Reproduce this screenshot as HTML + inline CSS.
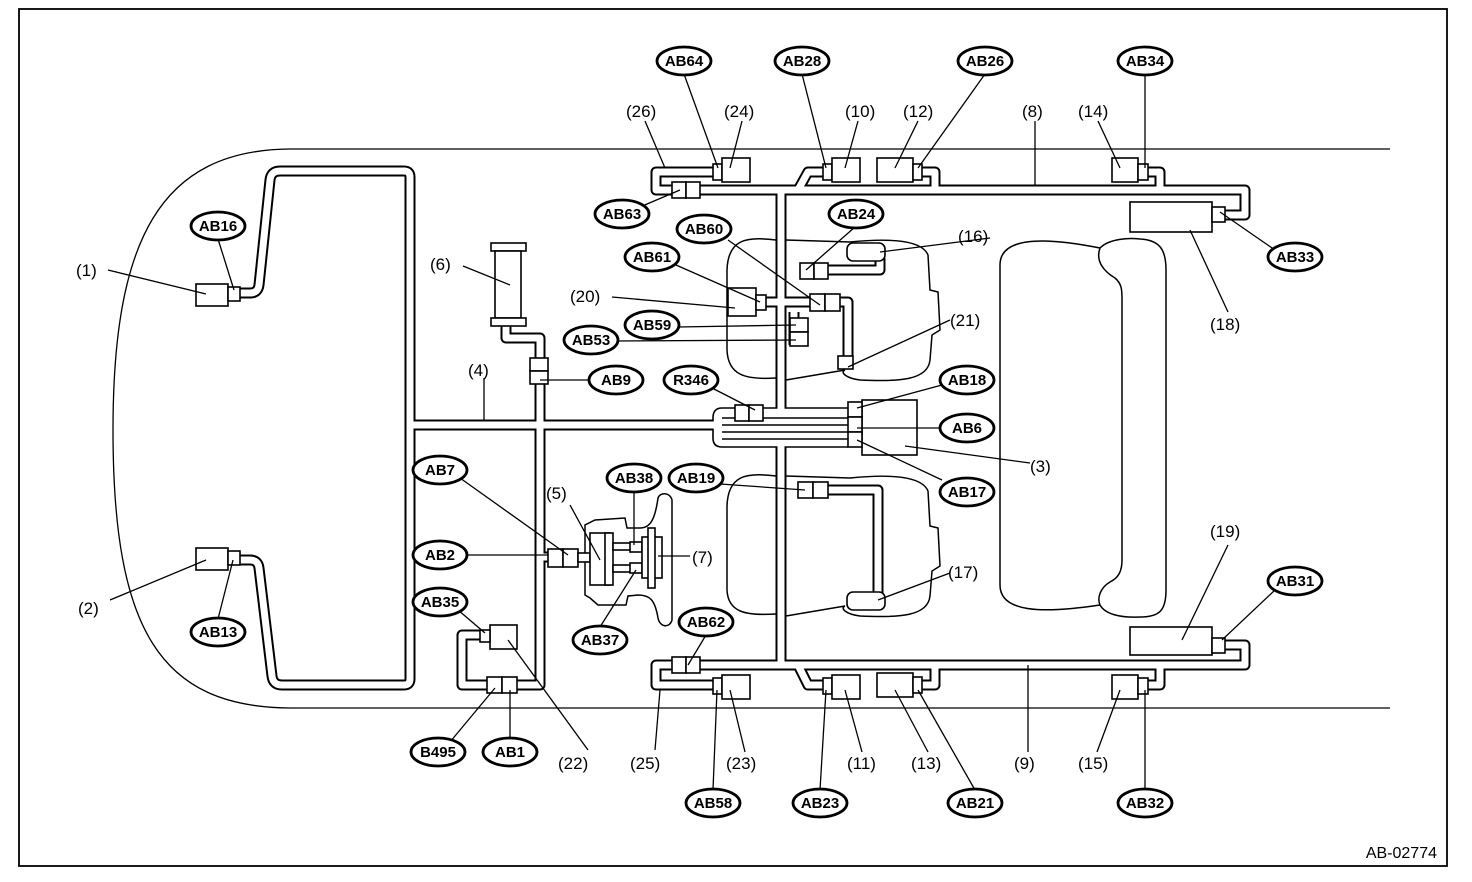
<!DOCTYPE html>
<html><head><meta charset="utf-8"><style>
html,body{margin:0;padding:0;background:#fff;}
svg{display:block;}
.t{font-family:"Liberation Sans",sans-serif;font-size:17px;fill:#000;}
.e text{font-family:"Liberation Sans",sans-serif;font-size:15px;font-weight:bold;fill:#000;text-anchor:middle;}
.e ellipse{fill:#fff;stroke:#000;stroke-width:2.8;}
</style></head><body>
<svg width="1472" height="882" viewBox="0 0 1472 882" xmlns="http://www.w3.org/2000/svg">
<rect x="0" y="0" width="1472" height="882" fill="#fff"/>
<rect x="19" y="9" width="1428" height="857" fill="none" stroke="#000" stroke-width="1.8"/>
<text x="1437" y="858" text-anchor="end" style="font-family:'Liberation Sans',sans-serif;font-size:16px">AB-02774</text>

<path d="M1390,149 L290,149 C160,150 113,240 113,430 C113,630 160,707 290,708 L1390,708" fill="none" stroke="#000" stroke-width="1.3"/>

<g fill="none" stroke="#000" stroke-width="1.5">
<path d="M776,240 C745,236 728,240 727,270 L727,350 C728,375 745,380 776,378"/>
<path d="M786,240 L850,242 C870,240 920,236 928,255 L930,290 L938,292 L940,330 L932,335 L930,360 C928,380 900,382 860,380 C845,378 840,372 845,370 L786,380"/>
<path d="M776,476 C745,472 728,476 727,506 L727,590 C728,612 745,616 776,614"/>
<path d="M786,476 L850,478 C870,476 920,472 928,491 L930,526 L938,528 L940,566 L932,571 L930,596 C928,616 900,618 860,616 C845,614 840,608 845,606 L786,616"/>
<path d="M1100,248 C1040,236 1000,238 1000,265 L1000,585 C1000,612 1040,614 1100,605"/>
<path d="M1100,248 C1110,238 1130,238 1140,239 C1160,240 1166,250 1166,270 L1166,590 C1166,610 1160,617 1140,617 C1120,618 1105,614 1100,605"/>
<path d="M1100,248 C1095,262 1105,272 1115,278 C1122,284 1122,290 1122,300 L1122,560 C1122,572 1118,578 1110,582 C1100,588 1097,598 1100,605"/>
<path d="M595,520 L625,518 L627,528 L640,528 C650,528 655,520 658,498 C660,492 670,492 672,500 L672,620 C670,628 660,628 658,618 C655,600 650,595 638,595 L628,596 L626,605 L598,605 L590,598 L585,595 L585,525 Z"/>
</g>

<g fill="none" stroke="#000" stroke-width="11" stroke-linejoin="round" stroke-linecap="butt">
<path d="M238,293 L250,293 Q258,293 259,285 L270,180 Q271,171 280,171 L404,171 Q410,171 410,177 L410,679 Q410,685 404,685 L282,685 Q273,685 272,676 L259,568 Q258,560 250,560 L238,560"/>
<path d="M410,425 L720,425"/>
<path d="M506,325 L506,338 L540,338 L540,685 L515,685"/>
<path d="M488,635 L462,635 L462,685 L490,685"/>
<path d="M548,557 L540,557"/>
<path d="M781,190 L781,665"/>
<path d="M716,172 L656,172 L656,190 L1245,190 L1245,215 L1225,215"/>
<path d="M824,172 L808,172 L798,190"/>
<path d="M922,172 L935,172 L935,190"/>
<path d="M1148,172 L1160,172 L1160,190"/>
<path d="M716,685 L656,685 L656,665 L1245,665 L1245,645 L1225,645"/>
<path d="M824,685 L808,685 L798,665"/>
<path d="M922,685 L935,685 L935,665"/>
<path d="M1148,685 L1160,685 L1160,665"/>
<path d="M828,270 L880,270 L880,258"/>
<path d="M840,302 L848,302 L848,362"/>
<path d="M765,302 L810,302"/>
<path d="M828,490 L878,490 L878,598"/>
<path d="M794,312 L794,345"/>
</g>
<path d="M848,408 L722,408 Q713,408 713,418 L713,438 Q713,447 722,447 L848,447" fill="#fff" stroke="#000" stroke-width="1.6"/>
<g fill="none" stroke="#fff" stroke-width="7" stroke-linejoin="round" stroke-linecap="butt">
<path d="M238,293 L250,293 Q258,293 259,285 L270,180 Q271,171 280,171 L404,171 Q410,171 410,177 L410,679 Q410,685 404,685 L282,685 Q273,685 272,676 L259,568 Q258,560 250,560 L238,560"/>
<path d="M410,425 L726,425"/>
<path d="M506,325 L506,338 L540,338 L540,685 L515,685"/>
<path d="M488,635 L462,635 L462,685 L490,685"/>
<path d="M552,557 L540,557"/>
<path d="M781,190 L781,665"/>
<path d="M716,172 L656,172 L656,190 L1245,190 L1245,215 L1225,215"/>
<path d="M824,172 L808,172 L798,190"/>
<path d="M922,172 L935,172 L935,190"/>
<path d="M1148,172 L1160,172 L1160,190"/>
<path d="M716,685 L656,685 L656,665 L1245,665 L1245,645 L1225,645"/>
<path d="M824,685 L808,685 L798,665"/>
<path d="M922,685 L935,685 L935,665"/>
<path d="M1148,685 L1160,685 L1160,665"/>
<path d="M828,270 L880,270 L880,258"/>
<path d="M840,302 L848,302 L848,362"/>
<path d="M765,302 L810,302"/>
<path d="M828,490 L878,490 L878,598"/>
<path d="M794,312 L794,345"/>
</g>
<g stroke="#000" stroke-width="1.6" fill="none">
<path d="M722,418 L848,418 M722,425 L848,425 M722,432 L848,432 M722,439 L848,439"/>
</g>

<g fill="#fff" stroke="#000" stroke-width="1.6">
<rect x="196" y="284" width="32" height="22"/><rect x="228" y="287" width="12" height="14"/>
<rect x="196" y="548" width="32" height="22"/><rect x="228" y="551" width="12" height="14"/>
<rect x="491" y="243" width="35" height="8"/><rect x="495" y="251" width="26" height="67"/><rect x="491" y="318" width="35" height="8"/>
<rect x="530" y="358" width="18" height="13"/><rect x="530" y="371" width="18" height="13"/>
<rect x="490" y="625" width="27" height="24"/><rect x="480" y="630" width="10" height="12"/>
<rect x="487" y="677" width="15" height="16"/><rect x="502" y="677" width="15" height="16"/>
<rect x="548" y="549" width="15" height="18"/><rect x="563" y="549" width="15" height="18"/>
<rect x="578" y="553" width="12" height="9"/>
<rect x="590" y="533" width="20" height="52"/><rect x="605" y="533" width="8" height="52"/>
<rect x="613" y="543" width="27" height="7"/><rect x="613" y="565" width="27" height="7"/>
<rect x="630" y="542" width="12" height="10"/><rect x="630" y="563" width="12" height="10"/>
<rect x="642" y="537" width="20" height="41"/><rect x="648" y="528" width="7" height="60"/>
<rect x="672" y="182" width="14" height="16"/><rect x="686" y="182" width="14" height="16"/>
<rect x="713" y="164" width="9" height="16"/><rect x="722" y="158" width="28" height="24"/>
<rect x="823" y="164" width="9" height="16"/><rect x="832" y="158" width="28" height="24"/>
<rect x="877" y="158" width="36" height="24"/><rect x="913" y="164" width="9" height="16"/>
<rect x="1112" y="158" width="26" height="24"/><rect x="1138" y="164" width="10" height="16"/>
<rect x="1130" y="202" width="82" height="30"/><rect x="1212" y="207" width="13" height="15"/>
<rect x="672" y="657" width="14" height="16"/><rect x="686" y="657" width="14" height="16"/>
<rect x="713" y="678" width="9" height="16"/><rect x="722" y="675" width="28" height="24"/>
<rect x="823" y="678" width="9" height="16"/><rect x="832" y="675" width="28" height="24"/>
<rect x="877" y="673" width="36" height="24"/><rect x="913" y="677" width="9" height="16"/>
<rect x="1112" y="675" width="26" height="24"/><rect x="1138" y="678" width="10" height="16"/>
<rect x="1130" y="627" width="82" height="28"/><rect x="1212" y="638" width="13" height="15"/>
<rect x="847" y="243" width="38" height="18" rx="6"/>
<rect x="847" y="592" width="38" height="18" rx="6"/>
<rect x="800" y="263" width="14" height="16"/><rect x="814" y="263" width="14" height="16"/>
<rect x="810" y="294" width="15" height="17"/><rect x="825" y="294" width="15" height="17"/>
<rect x="728" y="288" width="28" height="28"/><rect x="756" y="295" width="10" height="15"/>
<rect x="790" y="318" width="18" height="14"/><rect x="790" y="332" width="18" height="14"/>
<rect x="838" y="356" width="15" height="13"/>
<rect x="735" y="405" width="14" height="16"/><rect x="749" y="405" width="14" height="16"/>
<rect x="862" y="400" width="55" height="55"/>
<rect x="848" y="402" width="14" height="15"/><rect x="848" y="417" width="14" height="15"/><rect x="848" y="432" width="14" height="15"/>
<rect x="798" y="482" width="15" height="16"/><rect x="813" y="482" width="15" height="16"/>
</g>

<g stroke="#000" stroke-width="1.3" fill="none">
<path d="M108,270 L206,294"/><path d="M218,239 L234,290"/>
<path d="M110,600 L206,560"/><path d="M218,619 L233,560"/>
<path d="M463,266 L510,285"/><path d="M484,378 L484,421"/>
<path d="M460,478 L568,555"/><path d="M465,555 L548,555"/>
<path d="M458,610 L485,633"/><path d="M450,742 L495,688"/><path d="M510,740 L510,690"/><path d="M588,750 L508,640"/>
<path d="M570,505 L600,560"/><path d="M634,491 L634,545"/><path d="M600,627 L636,570"/><path d="M690,556 L658,556"/>
<path d="M645,121 L665,168"/><path d="M684,74 L718,168"/><path d="M742,121 L730,168"/>
<path d="M802,74 L826,168"/><path d="M858,121 L845,168"/><path d="M918,121 L895,168"/><path d="M985,74 L918,168"/>
<path d="M1035,121 L1035,186"/><path d="M1098,121 L1120,168"/><path d="M1145,74 L1145,168"/>
<path d="M640,207 L680,190"/>
<path d="M728,240 L820,305"/><path d="M855,227 L806,270"/><path d="M676,265 L760,302"/><path d="M612,297 L735,308"/>
<path d="M678,327 L796,325"/><path d="M616,341 L796,340"/><path d="M641,380 L540,380"/><path d="M712,388 L755,410"/>
<path d="M990,238 L880,252"/><path d="M950,320 L848,367"/><path d="M942,385 L857,408"/><path d="M942,428 L857,428"/><path d="M942,480 L857,440"/>
<path d="M1030,463 L905,446"/><path d="M1275,250 L1220,212"/><path d="M1228,312 L1190,230"/>
<path d="M720,484 L805,490"/><path d="M950,573 L878,600"/>
<path d="M1228,545 L1182,640"/><path d="M1275,590 L1222,640"/>
<path d="M706,635 L688,665"/><path d="M655,750 L660,690"/><path d="M713,790 L717,690"/><path d="M745,752 L730,690"/>
<path d="M820,790 L826,690"/><path d="M862,752 L845,690"/><path d="M928,752 L895,690"/><path d="M975,790 L918,690"/>
<path d="M1028,752 L1028,665"/><path d="M1097,752 L1120,690"/><path d="M1145,790 L1145,690"/>
</g>

<g class="t">
<text x="76" y="276">(1)</text><text x="78" y="614">(2)</text><text x="1030" y="472">(3)</text>
<text x="468" y="376">(4)</text><text x="546" y="499">(5)</text><text x="430" y="270">(6)</text><text x="692" y="563">(7)</text>
<text x="1022" y="117">(8)</text><text x="1014" y="769">(9)</text><text x="845" y="117">(10)</text><text x="847" y="769">(11)</text>
<text x="903" y="117">(12)</text><text x="911" y="769">(13)</text><text x="1078" y="117">(14)</text><text x="1078" y="769">(15)</text>
<text x="958" y="242">(16)</text><text x="948" y="578">(17)</text><text x="1210" y="330">(18)</text><text x="1210" y="537">(19)</text>
<text x="570" y="302">(20)</text><text x="950" y="326">(21)</text><text x="558" y="769">(22)</text><text x="726" y="769">(23)</text>
<text x="724" y="117">(24)</text><text x="630" y="769">(25)</text><text x="626" y="117">(26)</text>
</g>

<g class="e">
<g><ellipse cx="684" cy="61" rx="27" ry="14"/><text x="684" y="66">AB64</text></g>
<g><ellipse cx="802" cy="61" rx="27" ry="14"/><text x="802" y="66">AB28</text></g>
<g><ellipse cx="985" cy="61" rx="27" ry="14"/><text x="985" y="66">AB26</text></g>
<g><ellipse cx="1145" cy="61" rx="27" ry="14"/><text x="1145" y="66">AB34</text></g>
<g><ellipse cx="218" cy="226" rx="27" ry="14"/><text x="218" y="231">AB16</text></g>
<g><ellipse cx="218" cy="632" rx="27" ry="14"/><text x="218" y="637">AB13</text></g>
<g><ellipse cx="622" cy="214" rx="27" ry="14"/><text x="622" y="219">AB63</text></g>
<g><ellipse cx="704" cy="229" rx="27" ry="14"/><text x="704" y="234">AB60</text></g>
<g><ellipse cx="856" cy="214" rx="27" ry="14"/><text x="856" y="219">AB24</text></g>
<g><ellipse cx="652" cy="257" rx="27" ry="14"/><text x="652" y="262">AB61</text></g>
<g><ellipse cx="652" cy="325" rx="27" ry="14"/><text x="652" y="330">AB59</text></g>
<g><ellipse cx="591" cy="340" rx="27" ry="14"/><text x="591" y="345">AB53</text></g>
<g><ellipse cx="616" cy="380" rx="27" ry="14"/><text x="616" y="385">AB9</text></g>
<g><ellipse cx="691" cy="380" rx="27" ry="14"/><text x="691" y="385">R346</text></g>
<g><ellipse cx="967" cy="380" rx="27" ry="14"/><text x="967" y="385">AB18</text></g>
<g><ellipse cx="967" cy="428" rx="27" ry="14"/><text x="967" y="433">AB6</text></g>
<g><ellipse cx="967" cy="492" rx="27" ry="14"/><text x="967" y="497">AB17</text></g>
<g><ellipse cx="1295" cy="257" rx="27" ry="14"/><text x="1295" y="262">AB33</text></g>
<g><ellipse cx="1295" cy="581" rx="27" ry="14"/><text x="1295" y="586">AB31</text></g>
<g><ellipse cx="440" cy="470" rx="27" ry="14"/><text x="440" y="475">AB7</text></g>
<g><ellipse cx="634" cy="478" rx="27" ry="14"/><text x="634" y="483">AB38</text></g>
<g><ellipse cx="696" cy="478" rx="27" ry="14"/><text x="696" y="483">AB19</text></g>
<g><ellipse cx="440" cy="555" rx="27" ry="14"/><text x="440" y="560">AB2</text></g>
<g><ellipse cx="440" cy="602" rx="27" ry="14"/><text x="440" y="607">AB35</text></g>
<g><ellipse cx="600" cy="640" rx="27" ry="14"/><text x="600" y="645">AB37</text></g>
<g><ellipse cx="706" cy="622" rx="27" ry="14"/><text x="706" y="627">AB62</text></g>
<g><ellipse cx="438" cy="752" rx="27" ry="14"/><text x="438" y="757">B495</text></g>
<g><ellipse cx="510" cy="752" rx="27" ry="14"/><text x="510" y="757">AB1</text></g>
<g><ellipse cx="713" cy="803" rx="27" ry="14"/><text x="713" y="808">AB58</text></g>
<g><ellipse cx="820" cy="803" rx="27" ry="14"/><text x="820" y="808">AB23</text></g>
<g><ellipse cx="975" cy="803" rx="27" ry="14"/><text x="975" y="808">AB21</text></g>
<g><ellipse cx="1145" cy="803" rx="27" ry="14"/><text x="1145" y="808">AB32</text></g>
</g>
</svg>
</body></html>
